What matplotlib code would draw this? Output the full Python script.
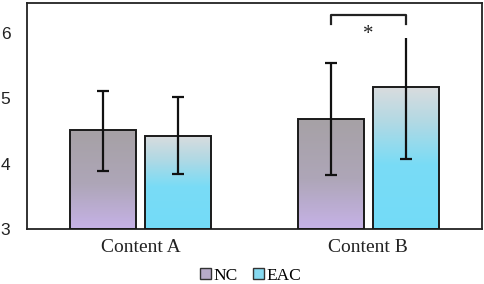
import numpy as np
import matplotlib
matplotlib.use("Agg")
import matplotlib.pyplot as plt
from matplotlib.colors import LinearSegmentedColormap
from matplotlib.patches import Patch

# data
categories = ["Content A", "Content B"]
groups = ["NC", "EAC"]
means = {"NC": [4.51, 4.69], "EAC": [4.43, 5.18]}
err_low = {"NC": [0.62, 0.86], "EAC": [0.58, 1.10]}
err_high = {"NC": [0.61, 0.85], "EAC": [0.59, 0.74]}
y_ticks = [3, 4, 5, 6]

# gradients, bottom -> top
cmaps = {
    "NC": LinearSegmentedColormap.from_list(
        "nc", [(0, "#c6b2e7"), (0.45, "#aea6b8"), (1, "#a6a1a5")]),
    "EAC": LinearSegmentedColormap.from_list(
        "eac", [(0, "#73dbf8"), (0.45, "#79dcf6"), (0.75, "#b2d9e4"), (1, "#dadcde")]),
}
legend_colors = {"NC": "#b7abc9", "EAC": "#86d9f0"}

fig = plt.figure(figsize=(4.84, 2.84), dpi=100)
ax = fig.add_axes([0.056, 0.193, 0.94, 0.797])

x = np.arange(len(categories))
width = 0.29
offsets = {"NC": -0.165, "EAC": 0.165}
grad = np.linspace(0, 1, 256).reshape(-1, 1)

for g in groups:
    xs = x + offsets[g]
    bars = ax.bar(xs, np.array(means[g]) - 3, width, bottom=3,
                  color="none", edgecolor="#1a1a1a", linewidth=1.4, zorder=3)
    for b in bars:
        x0, y0 = b.get_x(), b.get_y()
        im = ax.imshow(grad, cmap=cmaps[g], origin="lower", aspect="auto",
                       extent=[x0, x0 + b.get_width(), y0, y0 + b.get_height()],
                       zorder=2)
        im.set_clip_path(b)
    lo = np.array(means[g]) - np.array(err_low[g])
    hi = np.array(means[g]) + np.array(err_high[g])
    ax.vlines(xs, lo, hi, color="#111111", linewidth=1.6, zorder=4)
    ax.plot(xs, lo, linestyle="none", marker="_", markersize=8,
            markeredgewidth=1.6, color="#111111", zorder=4)
    # top cap of Content B / EAC is hidden in the reference
    top_n = len(xs) if g == "NC" else 1
    ax.plot(xs[:top_n], hi[:top_n], linestyle="none", marker="_", markersize=8,
            markeredgewidth=1.6, color="#111111", zorder=4)

# significance bracket for Content B
bx = [x[1] + offsets["NC"], x[1] + offsets["EAC"]]
ax.plot([bx[0], bx[0], bx[1], bx[1]], [6.14, 6.28, 6.28, 6.14],
        color="#222222", linewidth=1.6, zorder=4)
ax.text(np.mean(bx), 5.98, "*", ha="center", va="center", fontsize=15,
        family="Liberation Serif", color="#222222")

ax.set_xlim(-0.5, 1.5)
ax.set_ylim(3, 6.46)
ax.set_yticks(y_ticks)
ax.set_yticklabels([str(t) for t in y_ticks], family="Liberation Sans", fontsize=12.5,
                   color="#222222")
ax.set_xticks(x)
ax.set_xticklabels(categories, family="Liberation Serif", fontsize=14, color="#222222")
ax.tick_params(axis="both", length=0)
ax.tick_params(axis="x", pad=7)
ax.tick_params(axis="y", pad=12)
for s in ax.spines.values():
    s.set_color("#222222")
    s.set_linewidth(1.3)

handles = [Patch(facecolor=legend_colors[g], edgecolor="#333333", linewidth=1.0, label=g)
           for g in groups]
fig.legend(handles=handles, loc="center", bbox_to_anchor=(0.518, 0.028), ncol=2,
           frameon=False, prop={"family": "Liberation Serif", "size": 12.5},
           handlelength=0.6, handleheight=0.6, handletextpad=0.15, columnspacing=0.9,
           borderaxespad=0, borderpad=0)

fig.savefig("out.png", dpi=100)
